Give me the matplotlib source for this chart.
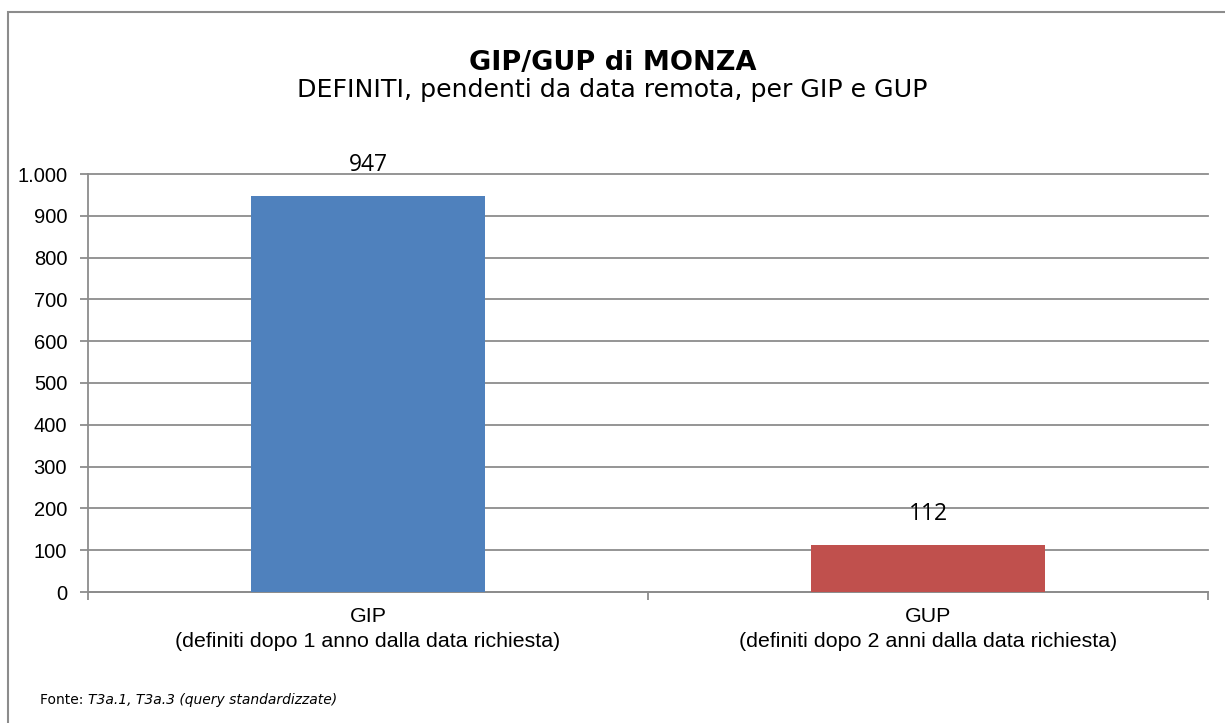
import matplotlib.pyplot as plt
import matplotlib as mpl
from matplotlib.patches import Rectangle
from matplotlib.ticker import FuncFormatter

# Data
categories = ['GIP\n(definiti dopo 1 anno dalla data richiesta)',
              'GUP\n(definiti dopo 2 anni dalla data richiesta)']
values = [947, 112]
colors = ['#4f81bd', '#c0504d']

mpl.rcParams['font.family'] = 'Liberation Sans'
grid_col = '#8c8c8c'

fig = plt.figure(figsize=(12.25, 7.23), dpi=100)

# Outer frame of the chart
fig.patches.append(Rectangle((8/1225, -0.05), 1.1, 1 - 12/723 + 0.05,
                             transform=fig.transFigure, fill=False,
                             edgecolor=grid_col, linewidth=1.5))

ax = fig.add_axes([88/1225, 1 - 592/723, 1120/1225, 418/723])
pos = list(range(len(values)))
bars = ax.bar(pos, values, width=0.418, color=colors, zorder=3)

# Format
ax.set_xlim(-0.5, len(values) - 0.5)
ax.set_ylim(0, 1000)
ax.set_yticks(range(0, 1001, 100))
ax.yaxis.set_major_formatter(FuncFormatter(lambda v, p: f'{int(v):,}'.replace(',', '.')))
ax.grid(axis='y', color=grid_col, linewidth=1.3, zorder=0)
for gl in ax.get_ygridlines():
    gl.set_clip_on(False)
for s in ['top', 'right']:
    ax.spines[s].set_visible(False)
ax.spines['left'].set_color(grid_col)
ax.spines['bottom'].set_color(grid_col)
ax.spines['left'].set_linewidth(1.3)
ax.spines['bottom'].set_linewidth(1.3)
ax.tick_params(axis='y', colors=grid_col, length=6, width=1.3, labelsize=14.5,
               labelcolor='black', pad=9)

# category boundaries as x ticks, labels as minor ticks
ax.set_xticks([-0.5, 0.5, 1.5])
ax.set_xticklabels([])
ax.tick_params(axis='x', which='major', colors=grid_col, length=6, width=1.3)
ax.set_xticks(pos, minor=True)
ax.set_xticklabels(categories, minor=True, fontsize=15.4, linespacing=1.4)
ax.tick_params(axis='x', which='minor', length=0, pad=11)

# Data labels
for b, v in zip(bars, values):
    ax.annotate(str(v), (b.get_x() + b.get_width()/2, v), xytext=(0, 14),
                textcoords='offset points', ha='center', va='bottom',
                fontsize=16.5, family='Open Sans')

# Titles
fig.text(0.5, 1 - 63/723, 'GIP/GUP di MONZA', ha='center', va='center',
         fontsize=19.5, fontweight='bold', family='DejaVu Sans')
fig.text(0.5, 1 - 90/723, 'DEFINITI, pendenti da data remota, per GIP e GUP',
         ha='center', va='center', fontsize=18.2, family='DejaVu Sans')

# Source
fig.text(40/1225, 1 - 700/723, 'Fonte: ', ha='left', va='center',
         fontsize=10, family='DejaVu Sans')
fig.text(88/1225, 1 - 700/723, 'T3a.1, T3a.3 (query standardizzate)',
         ha='left', va='center', fontsize=10, family='DejaVu Sans', style='italic')

fig.savefig('out.png', dpi=100)
